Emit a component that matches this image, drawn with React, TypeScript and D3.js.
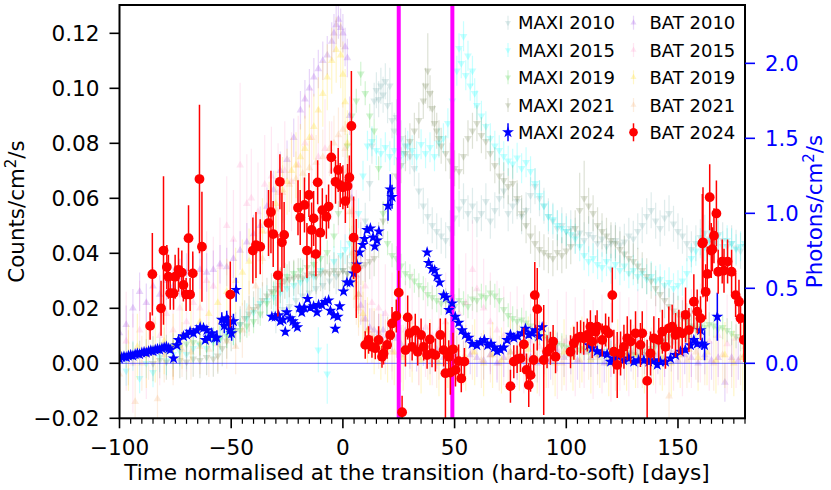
import React from "react";
import * as d3 from "d3";

// ---------- axis ticks / markers ----------
const xTicks = [-100, -50, 0, 50, 100, 150];
const yLeftTicks = [-0.02, 0, 0.02, 0.04, 0.06, 0.08, 0.1, 0.12];
const yRightTicks = [0, 0.5, 1, 1.5, 2];
const transitions = [25, 49];

// ---------- data: [day, value, err?] ----------
const maxi2010 = [
  [-30,0.32],[-27,0.36],[-24,0.38],[-21,0.42],[-18,0.45],[-15,0.47],[-12,0.5],[-9,0.52],[-6,0.55],[-3,0.58],[0,0.62],[2,0.6],[4,0.66],[6,0.7],[8,0.82],[10,0.95],[12,1.2],[13,1.45],[14,1.75],[15,1.82],[16,1.76],[17,1.85],[18,1.79],[19,1.88],[20,1.72],[21,1.85],[22,1.62],[23,1.55],[24,1.64],[26,1.5],[28,1.45],[30,1.38],[32,1.3],[34,1.15],[36,1.05],[38,0.98],[40,0.92],[42,0.88],[44,0.85],[46,0.82],[48,0.9],[50,0.97],[52,1.03],[54,1.08],[56,1.0],[58,1.05],[60,0.96],[62,1.0],[64,1.08],[66,0.95],[68,1.02],[70,1.1],[72,1.15],[74,1.0],[76,1.05],[78,1.08],[80,0.98],[82,1.02],[84,1.12],[86,1.18],[88,1.1],[90,1.05],[92,0.98],[94,0.95],[96,0.9],[98,0.92],[100,0.88],[102,0.9],[104,0.85],[106,0.87],[108,0.82],[110,0.86],[112,0.84],[114,0.8],[116,0.83],[118,0.78],[120,0.8],[122,0.82],[124,0.79],[126,0.81],[128,0.85],[130,0.83],[132,0.88],[134,0.92],[136,0.98],[138,1.02],[140,0.95],[142,0.9],[144,0.97],[146,1.0],[148,0.93],[150,0.88],[152,0.85],[154,0.8],[156,0.76],[158,0.8],[160,0.84],[162,0.87],[164,0.83],[166,0.8],[168,0.86],[170,0.82],[172,0.78],[174,0.8],[176,0.77],[178,0.75],[180,0.78],
];
const maxi2015 = [
  [-100,0.02],[-97,-0.05],[-94,0.05],[-91,-0.1],[-88,0.0],[-85,-0.06],[-82,0.04],[-79,0.02],[-76,0.06],[-73,0.08],[-70,0.06],[-67,0.1],[-64,0.12],[-61,0.1],[-58,0.14],[-55,0.16],[-52,0.2],[-49,0.22],[-46,0.26],[-43,0.3],[-40,0.34],[-37,0.4],[-34,0.42],[-31,0.44],[-28,0.47],[-25,0.5],[-22,0.52],[-19,0.54],[-16,0.56],[-13,0.58],[-11,0.09,0.15],[-10,0.62],[-7,-0.07,0.2],[-4,0.68],[-1,0.72],[1,0.76],[3,0.8],[5,0.82],[7,1.0],[9,1.25],[11,1.45],[13,1.48],[15,1.42],[17,1.4],[19,1.44],[21,1.38],[23,1.42],[25,1.36],[27,1.4],[29,1.45],[31,1.42],[33,1.38],[35,1.46],[37,1.4],[39,1.44],[41,1.38],[43,1.47],[45,1.5],[47,1.6],[49,1.75],[51,1.95],[52,2.1],[53,2.0],[54,2.18],[55,1.92],[56,2.05],[57,1.85],[58,1.95],[59,1.8],[60,1.72],[62,1.65],[64,1.58],[66,1.5],[68,1.45],[70,1.42],[72,1.38],[74,1.35],[76,1.33],[78,1.37],[80,1.3],[82,1.34],[84,1.28],[86,1.2],[88,1.12],[90,1.05],[92,0.98],[94,0.96],[96,0.92],[98,0.9],[100,0.88],[102,0.86],[104,0.83],[106,0.78],[108,0.72],[110,0.68],[112,0.7],[114,0.66],[116,0.64],[118,0.68],[120,0.63],[122,0.66],[124,0.62],[126,0.65],[128,0.6],[130,0.62],[132,0.58],[134,0.6],[136,0.56],[138,0.58],[140,0.55],[142,0.56],[144,0.52],[146,0.54],[148,0.5],[150,0.52],[152,0.55],[154,0.6],[156,0.7],[158,0.75],[160,0.8],[162,0.78],[164,0.82],[166,0.8],[168,0.85],[170,0.78],[172,0.82],[174,0.8],[176,0.76],[178,0.78],[180,0.8],
];
const maxi2019 = [
  [-100,0.03],[-97,0.05],[-94,0.06],[-91,0.07],[-88,0.08],[-85,0.1],[-82,0.09],[-79,0.11],[-76,0.12],[-73,0.11],[-70,0.13],[-67,0.14],[-64,0.13],[-61,0.15],[-58,0.16],[-55,0.17],[-52,0.18],[-49,0.2],[-46,0.22],[-43,0.25],[-40,0.28],[-37,0.33],[-34,0.4],[-31,0.47],[-28,0.55],[-25,0.58],[-22,0.6],[-19,0.62],[-16,0.64],[-13,0.66],[-10,0.7],[-7,0.74],[-4,0.85],[-2,1.0],[0,1.2],[2,1.45],[4,1.65],[6,1.75],[8,1.93],[10,1.8],[12,1.65],[14,1.55],[16,1.3],[18,1.0],[20,0.8],[22,0.72],[24,0.7],[26,0.65],[28,0.6],[30,0.58],[32,0.55],[34,0.52],[36,0.5],[38,0.46],[40,0.44],[42,0.42],[44,0.4],[46,0.42],[48,0.4],[50,0.38],[52,0.42],[54,0.4],[56,0.38],[58,0.43],[60,0.42],[62,0.45],[64,0.44],[66,0.47],[68,0.45],[70,0.42],[72,0.36],[74,0.32],[76,0.3],[78,0.28],[80,0.29],[82,0.27],[84,0.25],[86,0.22],[88,0.2],[90,0.18],[92,0.16],[94,0.14],[96,0.13],[98,0.12],[100,0.11],[102,0.1],[104,0.12],[106,0.09],[108,0.1],[110,0.08],[112,0.09],[114,0.07],[116,0.08],[118,0.06],[120,0.07],[122,0.05],[124,0.06],[126,0.05],[128,0.07],[130,0.06],[132,0.05],[134,0.08],[136,0.06],[138,0.1],[140,0.12],[142,0.14],[144,0.15],[146,0.18],[148,0.2],[150,0.18],[152,0.2],[154,0.22],[156,0.24],[158,0.23],[160,0.25],[162,0.24],[164,0.26],[166,0.25],[168,0.23],[170,0.24],[172,0.22],[174,0.2],[176,0.18],[178,0.16],[180,0.15],
];
const maxi2021 = [
  [-85,0.0],[-82,0.02],[-79,0.01],[-76,0.03],[-73,0.02],[-70,0.01],[-67,0.03],[-64,0.02],[-61,0.04],[-58,0.03],[-56,0.05],[-54,0.1],[-52,0.15],[-50,0.2],[-48,0.22],[-46,0.26],[-44,0.3],[-42,0.33],[-40,0.36],[-38,0.38],[-36,0.42],[-34,0.45],[-32,0.48],[-30,0.5],[-28,0.52],[-26,0.55],[-24,0.56],[-22,0.57],[-20,0.58],[-18,0.57],[-16,0.59],[-14,0.6],[-12,0.58],[-10,0.6],[-8,0.61],[-6,0.6],[-4,0.62],[-2,0.6],[0,0.62],[2,0.6],[4,0.63],[6,0.62],[8,0.64],[10,0.66],[12,0.68],[14,0.7],[16,0.82],[18,0.95],[20,1.05],[22,1.15],[24,1.25],[26,1.32],[28,1.4],[30,1.48],[32,1.55],[34,1.62],[36,1.75],[37,1.85],[38,1.95,0.25],[39,1.8],[40,1.7],[41,1.6],[42,1.55],[43,1.5],[44,1.45],[46,1.4],[48,1.35],[50,1.3],[52,1.28],[54,1.38],[56,1.5],[58,1.55],[60,1.6],[62,1.52],[64,1.48],[66,1.4],[68,1.32],[70,1.25],[72,1.22],[74,1.18],[76,1.2],[78,1.1],[80,1.0],[82,0.92],[84,0.85],[86,0.8],[88,0.76],[90,0.74],[92,0.72],[94,0.7],[96,0.74],[98,0.72],[100,0.75],[102,0.78],[104,0.9],[106,1.02,0.25],[108,1.1,0.25],[110,1.05],[112,1.0],[114,0.92],[116,0.88],[118,0.85],[120,0.82],[122,0.8],[124,0.76],[126,0.73],[128,0.7],[130,0.68],[132,0.65],[134,0.62],[136,0.58],[138,0.55],[140,0.5],[142,0.46],[144,0.42],[146,0.38],[148,0.35],[150,0.33],[152,0.3],[154,0.28],[156,0.25],
];
const maxi2024 = [
  [-100,0.03],[-99,0.04],[-98,0.045],[-97,0.04],[-96,0.05],[-95,0.055],[-94,0.05],[-93,0.06],[-92,0.065],[-91,0.06],[-90,0.07],[-89,0.075],[-88,0.07],[-87,0.08],[-86,0.085],[-85,0.08],[-84,0.09],[-83,0.095],[-82,0.09],[-81,0.1],[-80,0.105],[-79,0.11],[-78,0.1],[-77.3,0.09],[-75.8,0.033],
  [-74.3,0.12],[-73.6,0.155],[-71.4,0.18],[-69.9,0.19],[-68.4,0.21],[-66.9,0.2],[-65.4,0.22],[-63.9,0.24],[-62.4,0.235],[-60.9,0.22],[-61.6,0.155],[-60.2,0.17],[-58.7,0.2],[-57.2,0.17],[-56.4,0.17,0.05],
  [-54.2,0.29,0.05],[-53.1,0.25,0.05],[-52,0.3,0.05],[-51.3,0.27,0.05],[-50.5,0.22,0.05],[-49.8,0.2,0.05],[-49,0.28,0.05],[-47.8,0.49,0.08],
  [-31.8,0.31],[-30.3,0.31],[-28.8,0.32],[-28,0.28],[-26.8,0.29],[-25.8,0.21],[-25.1,0.34],[-23.6,0.3],[-22.4,0.28],[-21.4,0.26],[-20.4,0.24],
  [-19.4,0.37],[-18.4,0.34],[-17.3,0.37],[-15.8,0.43],[-14.6,0.37],[-13.1,0.38],[-11.6,0.34],[-10.9,0.39],[-9.4,0.39],[-7.9,0.41],[-6.4,0.42],[-5.6,0.35],[-4.1,0.32],[-3.4,0.23],[-2.3,0.31],[-1.4,0.38],[0.3,0.48],[1.8,0.54],[3.3,0.54],[4.8,0.6],[6.3,0.66],[7.5,0.74],[8.9,0.79],[9.7,0.83],[10.8,0.89],[12.3,0.9],[13.5,0.84],[14.3,0.78],[15.3,0.82],[16.1,0.88],
  [20.2,1.05,0.1],[21.2,1.16,0.1],[22,1.11,0.08],
  [37.7,0.74],[38.4,0.67],[39.9,0.63],[41.1,0.62],[42.1,0.58],[43.3,0.54],[45.1,0.455],[46.3,0.44],[47.5,0.355],[48.9,0.4],[50.3,0.31],[51.8,0.27],[53.3,0.22],[54.8,0.19],[56.3,0.17],[57.8,0.13],[60,0.12],[61.5,0.14],[63.3,0.155],[64.8,0.12],[66.3,0.13],[67.8,0.105],[69,0.08],[70.5,0.09],[72,0.105],[73.5,0.155],[75,0.19],[76.5,0.17],[78.3,0.18],[80.2,0.2],[81.7,0.23],[83.2,0.19],[84.7,0.2],[86.2,0.22],[87.7,0.18],[89.2,0.24],
  [110.1,0.12],[111.6,0.1],[113.8,0.08],[116,0.067],[118.3,0.06],[119.8,0.01],[121.3,0.033],[123.5,0.045],[125.7,0.02],[128,0.033],[130.2,0.01],[132.4,0.02],[134.7,0.02],[136.9,0.01],[139.2,0.02],[140.7,-0.01],[142.1,0.01],[144.4,0.01],[146.6,0.033],[148.9,0.055],[151.1,0.078],[153.3,0.09],[155.6,0.12],[157.1,0.155],[158.6,0.13],[160.1,0.22,0.05],[160.8,0.13,0.04],[161.9,0.12,0.1],[167.6,0.31,0.16],
];
const bat2010 = [
  [-100,0.011],[-97,0.014],[-94,0.02],[-91,0.026],[-88,0.022],[-85,0.028],[-82,0.025],[-79,0.03],[-76,0.028],[-73,0.031],[-70,0.033],[-67,0.032],[-64,0.034],[-61,0.033],[-58,0.034],[-55,0.036],[-52,0.035],[-49,0.038],[-46,0.041],[-43,0.044],[-40,0.047],[-37,0.05],[-34,0.057],[-31,0.063],[-28,0.07],[-25,0.074],[-22,0.082],[-19,0.092],[-17,0.096],[-15,0.1],[-13,0.104],[-11,0.107],[-9,0.11],[-7,0.112],[-5,0.117],[-4,0.12],[-3,0.123],[-2,0.125],[-1,0.122],[0,0.12],[1,0.115],[2,0.111],[3,0.09],[4,0.06],[5,0.045],[6,0.032],[7,0.025],[8,0.021],[10,0.016],[12,0.013],[14,0.012],[16,0.011],[18,0.012],[20,0.01],[22,0.011],[24,0.009],[26,0.007],[28,0.006],
  [30,0.005],[33,0.004],[36,0.006],[39,0.003],[42,0.005],[45,0.002],[48,0.004],[51,0.003],[54,0.001],[57,0.003],[60,0.002],[63,0.001],[66,0.003],[69,0.0],[72,0.002],[75,0.004],[78,0.001],[81,0.003],[84,0.002],[87,0.0],[90,0.003],[93,0.001],[96,0.004],[99,0.002],[102,0.003],[105,0.001],[108,0.004],[111,0.002],[114,0.003],[117,0.0],[120,0.002],[123,0.003],[126,0.001],[129,0.004],[132,0.002],[135,0.003],[138,0.001],[141,0.003],[144,0.002],[147,0.004],[150,0.001],[153,0.003],[156,0.002],[159,0.0],[162,0.003],[165,0.001],[168,0.002],[171,-0.007],[174,0.002],[177,0.001],[180,0.003],
];
const bat2015 = [
  [-100,0.002],[-97,0.008],[-94,0.0],[-91,0.012],[-88,0.005],[-85,0.015],[-82,0.01],[-79,0.018],[-76,0.012],[-73,0.02],[-70,0.015],[-67,0.022],[-64,0.02],[-61,0.03],[-58,0.028],[-55,0.035],[-52,0.05],[-49,0.045],[-46,0.072,0.03],[-43,0.058],[-41,0.06],[-38,0.055],[-35,0.065],[-32,0.068],[-29,0.062],[-26,0.07],[-23,0.066],[-20,0.072],[-17,0.08],[-14,0.082],[-11,0.075],[-8,0.078],[-5,0.07],[-2,0.065],[1,0.06],[4,0.055],[6,0.045],[8,0.035],[10,0.028],[13,0.022],[16,0.02],[19,0.018],[22,0.015],[25,0.016],[28,0.012],[31,0.015],[34,0.01],[37,0.013],[40,0.01],[43,0.012],[46,0.015],[49,0.012],[52,0.018],[55,0.022],[58,0.034],[60,0.027],[63,0.02],[66,0.015],[69,0.012],[72,0.01],[75,0.008],[78,0.01],[81,0.007],[84,0.008],[88,0.006],[92,0.009],[96,0.005],[100,0.008],[104,0.006],[108,0.009],[112,0.005],[116,0.007],[120,0.004],[124,0.008],[128,0.006],[132,0.009],[136,0.005],[140,0.007],[144,0.01],[148,0.008],[152,0.006],[156,0.009],[160,0.011],[164,0.008],[168,0.01],[172,0.007],[176,0.009],[180,0.006],
];
const bat2019 = [
  [-100,0.004],[-96,0.002],[-92,0.006],[-88,0.003],[-84,0.005],[-80,0.008],[-76,0.006],[-72,0.01],[-68,0.012],[-64,0.015],[-60,0.018],[-56,0.022],[-52,0.026],[-48,0.03],[-45,0.033],[-42,0.037],[-39,0.042],[-36,0.048],[-33,0.054],[-30,0.058],[-27,0.063],[-25,0.066],[-23,0.07],[-21,0.072],[-19,0.075],[-17,0.078],[-15,0.082],[-13,0.086],[-11,0.092],[-9,0.098],[-7,0.104],[-5,0.11],[-3,0.114],[-1,0.112],[0,0.105],[1,0.095],[2,0.08],[3,0.06],[4,0.045],[5,0.035],[7,0.025],[9,0.018],[11,0.012],[14,0.008],[17,0.006],[20,0.005],[23,0.004],[27,0.002],[31,0.005],[35,0.001],[39,0.004],[43,0.0],[47,0.003],[51,0.005],[55,0.002],[59,0.004],[63,0.0],[67,0.003],[71,0.001],[75,0.004],[79,0.002],[83,0.005],[87,0.001],[91,0.003],[95,0.0],[99,0.004],[103,0.002],[107,0.005],[111,0.001],[115,0.003],[119,0.0],[123,0.004],[127,0.002],[131,0.003],[135,0.001],[139,0.004],[143,0.002],[147,0.0],[151,0.003],[155,0.005],[159,0.002],[163,0.004],[167,0.001],[171,0.003],[175,0.0],[179,0.002],
];
const bat2021 = [
  [-100,-0.004],[-96,0.002],[-93,-0.014,0.015],[-90,0.0],[-87,0.004],[-83,-0.013,0.015],[-80,0.003],[-76,0.002],[-72,0.005],[-68,0.004],[-64,0.006],[-60,0.005],[-56,0.007],[-52,0.008],[-48,0.006],[-45,0.012],[-42,0.02],[-39,0.028],[-36,0.038],[-33,0.048],[-30,0.056],[-27,0.062],[-24,0.065],[-21,0.067],[-18,0.069],[-15,0.071],[-12,0.073],[-9,0.075],[-6,0.078],[-4,0.08],[-2,0.083],[0,0.085],[1,0.078],[2,0.07],[3,0.055],[4,0.04],[5,0.03],[6,0.024],[7,0.02],[9,0.016],[11,0.012],[13,0.01],[16,0.008],[19,0.006],[22,0.004],[26,0.003],[30,0.005],[34,0.002],[38,0.004],[42,0.001],[46,0.003],[50,0.005],[54,0.002],[58,0.004],[62,0.001],[66,0.003],[70,0.0],[74,0.002],[78,0.004],[82,0.001],[86,0.003],[90,0.005],[94,0.002],[98,0.0],[102,0.003],[106,0.001],[110,0.004],[114,0.002],[118,0.003],[122,0.0],[126,0.002],[130,0.004],[134,0.001],[138,0.003],[142,0.002],[146,-0.012,0.012],[150,0.003],[154,0.001],[158,0.004],[162,0.002],[166,0.0],[170,0.003],[174,0.001],[178,0.002],
];
const bat2024 = [
  [-86.3,0.0136,0.005],[-85.3,0.0324,0.015],[-81.4,0.02,0.01],[-80.3,0.041,0.027],
  [-78.8,0.035,0.008],[-78.1,0.0315,0.008],[-77.3,0.0255,0.006],[-75.8,0.0255,0.006],[-75.1,0.0315,0.008],[-73.6,0.034,0.008],[-72.1,0.033,0.008],[-71.4,0.0285,0.006],[-70.2,0.025,0.006],[-68.4,0.025,0.006],[-67.2,0.0327,0.008],[-69.1,0.0455,0.012],[-63.1,0.0424,0.02],[-64.2,0.067,0.027],
  [-50.4,0.025,0.012],
  [-40.3,0.041,0.012],[-38.9,0.043,0.012],[-37,0.0424,0.01],
  [-33.3,0.051,0.012],[-32.2,0.055,0.015],[-31.2,0.047,0.012],
  [-29.1,0.032,0.015],[-28.2,0.066,0.01],[-27.3,0.044,0.018],[-26.3,0.0467,0.012],
  [-20.1,0.0566,0.01],[-19.1,0.053,0.01],[-17.2,0.0576,0.01],[-16.1,0.041,0.01],[-15.2,0.0612,0.008],[-14,0.0485,0.01],[-13.1,0.0527,0.01],[-12.1,0.0397,0.008],[-11.3,0.0658,0.008],[-10.1,0.0475,0.008],[-9.2,0.0557,0.008],[-7.4,0.0533,0.008],[-6.4,0.057,0.008],[-5.2,0.0749,0.006],[-3.3,0.066,0.008],[-2.1,0.0703,0.008],[-1.2,0.0648,0.008],[0,0.064,0.008],[1.1,0.059,0.008],[2.1,0.0645,0.008],[2.9,0.0676,0.008],[3.8,0.0863,0.02],[4.8,0.0457,0.015],[6,0.0345,0.018],
  [10,0.0067,0.005],[11.5,0.0085,0.005],[13,0.006,0.004],[14.5,0.0055,0.004],[16,0.0085,0.005],[17.5,0.0024,0.004],[18.2,0.0036,0.004],[19.8,0.0067,0.005],[21.2,0.0103,0.005],[22,0.0145,0.006],[23.9,0.0172,0.006],[25,0.0257,0.008],[26.5,-0.0178,0.006],[28,0.0048,0.006],[29,0.0167,0.008],[29.9,0.011,0.006],[31,0.006,0.005],[32.4,0.012,0.006],[33.5,0.0042,0.005],[35,0.0103,0.006],[36.2,0.006,0.005],[37.7,0.003,0.005],[38.9,0.0087,0.006],[39.9,0.0036,0.005],[41.4,0.003,0.006],[43.6,0.0103,0.006],[45.1,0.0048,0.006],[45.9,-0.0036,0.02],[47.4,0.0024,0.006],[48.1,-0.0034,0.008],[49.3,0.0051,0.006],[50.4,-0.0024,0.006],[51.8,0.0008,0.006],[53,-0.0055,0.005],[54.4,0.0006,0.005],
  [75,-0.0083,0.006],[76.5,0.0006,0.006],[78,0.0015,0.005],[79.5,0.0018,0.005],[81,0.0069,0.006],[82.2,-0.0024,0.006],[83.2,-0.0079,0.008],[84,-0.0043,0.006],[85.4,0.0012,0.006],[85.9,0.0248,0.012],[87,0.0197,0.015],[89.9,0.0012,0.02],[91.4,0.0042,0.006],[92.9,0.0055,0.006],[94.1,0.0079,0.006],[95.2,0.0024,0.006],
  [101.9,0.0042,0.006],[103.4,0.0073,0.006],[104.9,0.0091,0.006],[106.4,0.0097,0.006],[107.8,0.0091,0.006],[109.4,0.0103,0.006],[110.8,0.0133,0.006],[111.6,0.0079,0.006],[113.1,0.0115,0.006],[113.8,0.0133,0.006],[116.1,0.0085,0.006],[117.6,0.0121,0.006],[119,0.0109,0.006],[120.6,0.0248,0.01],[121.3,0.0042,0.008],[122.8,-0.0006,0.012],[124.3,0.0036,0.008],[125.8,0.006,0.008],[127.3,0.0091,0.008],[128.8,0.0079,0.008],[131,0.0109,0.008],[133.2,0.0067,0.008],[134,0.0109,0.008],[136.2,-0.0064,0.015],[137.7,0.0036,0.008],[139.2,0.0091,0.008],[141.4,0.0085,0.008],[143,0.0115,0.008],[144.4,0.006,0.008],[145.9,0.0127,0.008],[147.4,0.0133,0.008],[148.9,0.0103,0.008],[150.4,0.0115,0.008],[151.9,0.0109,0.008],[153.4,0.0176,0.01],[154.9,0.0121,0.008],[157.1,0.0224,0.01],[158.6,0.0188,0.008],[160.1,0.0164,0.008],
  [160.9,0.0436,0.018],[161.2,0.044,0.02],[162.4,0.026,0.01],[163.1,0.0325,0.01],[164.2,0.0604,0.012],[164.9,0.041,0.01],[165.4,0.0415,0.008],[166.1,0.0464,0.01],[167.2,0.0545,0.012],[168,0.0333,0.008],[169.8,0.037,0.008],[170.6,0.0337,0.008],[172.2,0.037,0.008],[174,0.0333,0.008],[175.8,0.0248,0.008],[177.3,0.0224,0.008],[178,0.0164,0.008],[179.5,0.0085,0.008],
];

const legendNames = ["MAXI 2010","MAXI 2015","MAXI 2019","MAXI 2021","MAXI 2024","BAT 2010","BAT 2015","BAT 2019","BAT 2021","BAT 2024"];

type Series = { name: string; data: number[][]; color: string; alpha: number; kind: "down" | "up" | "star" | "circle"; axis: "L" | "R"; err: number };

const series: Series[] = [
  { name: "MAXI 2010", data: maxi2010, color: "#5f9ea0", alpha: 0.2, kind: "down", axis: "R", err: 0.12 },
  { name: "MAXI 2015", data: maxi2015, color: "#00ffff", alpha: 0.22, kind: "down", axis: "R", err: 0.1 },
  { name: "MAXI 2019", data: maxi2019, color: "#32cd32", alpha: 0.22, kind: "down", axis: "R", err: 0.08 },
  { name: "MAXI 2021", data: maxi2021, color: "#556b2f", alpha: 0.2, kind: "down", axis: "R", err: 0.12 },
  { name: "MAXI 2024", data: maxi2024, color: "#0000ff", alpha: 1, kind: "star", axis: "R", err: 0.02 },
  { name: "BAT 2010", data: bat2010, color: "#8a2be2", alpha: 0.2, kind: "up", axis: "L", err: 0.007 },
  { name: "BAT 2015", data: bat2015, color: "#ff69b4", alpha: 0.16, kind: "up", axis: "L", err: 0.018 },
  { name: "BAT 2019", data: bat2019, color: "#ffd700", alpha: 0.22, kind: "up", axis: "L", err: 0.012 },
  { name: "BAT 2021", data: bat2021, color: "#f4a460", alpha: 0.2, kind: "up", axis: "L", err: 0.01 },
  { name: "BAT 2024", data: bat2024, color: "#ff0000", alpha: 1, kind: "circle", axis: "L", err: 0.008 },
];

const FONT = "DejaVu Sans, Verdana, sans-serif";
const PL = 119.5, PR = 745, PT = 5, PB = 418.3;

const triPath = d3.symbol().type(d3.symbolTriangle).size(26)() as string;
const triSmall = d3.symbol().type(d3.symbolTriangle).size(16)() as string;
const starPath = d3.symbol().type(d3.symbolStar).size(44)() as string;

function Marker({ kind, x, y, color, alpha, small }: { kind: string; x: number; y: number; color: string; alpha: number; small?: boolean }) {
  if (kind === "circle") return <circle cx={x} cy={y} r={small ? 4.3 : 4.9} fill={color} fillOpacity={alpha} />;
  if (kind === "star") return <path d={starPath} transform={`translate(${x},${y})`} fill={color} fillOpacity={alpha} />;
  const rot = kind === "down" ? " rotate(180)" : "";
  return <path d={small ? triSmall : triPath} transform={`translate(${x},${y})${rot}`} fill={color} fillOpacity={alpha} />;
}

export default function App() {
  const x = d3.scaleLinear().domain([-100, 180]).range([PL, PR]);
  const yL = d3.scaleLinear().domain([-0.02, 0.1303]).range([PB, PT]);
  const yR = d3.scaleLinear().domain([-0.3667, 2.389]).range([PB, PT]);
  const fmtL = d3.format(".2f");
  const fmtR = d3.format(".1f");
  const fmtX = d3.format("d");
  const minor = d3.range(-100, 181, 5).filter((v) => v % 50 !== 0);

  const drawSeries = (s: Series) => {
    const y = s.axis === "L" ? yL : yR;
    const main = s.alpha === 1;
    return (
      <g key={s.name}>
        {s.data.map((p, i) => {
          const e = p[2] !== undefined ? p[2] : s.err;
          return (
            <line key={"e" + i} x1={x(p[0])} x2={x(p[0])} y1={y(p[1] - e)} y2={y(p[1] + e)}
              stroke={s.color} strokeOpacity={s.alpha} strokeWidth={main ? 1.5 : 1.2} />
          );
        })}
        {s.data.map((p, i) => (
          <Marker key={"m" + i} kind={s.kind} x={x(p[0])} y={y(p[1])} color={s.color} alpha={s.alpha} />
        ))}
      </g>
    );
  };

  const faint = series.filter((s) => s.alpha < 1);
  const maxi24 = series.find((s) => s.name === "MAXI 2024")!;
  const bat24 = series.find((s) => s.name === "BAT 2024")!;

  const legendRows = [22.7, 50, 77.3, 105, 132.3];
  const legendCols = [{ mx: 508, tx: 518 }, { mx: 633.5, tx: 649.5 }];

  return (
    <svg width={831} height={490} style={{ position: "absolute", left: 0, top: 0, background: "#fff" }} fontFamily={FONT}>
      <defs>
        <clipPath id="plot">
          <rect x={PL} y={PT} width={PR - PL} height={PB - PT} />
        </clipPath>
      </defs>
      <rect x={0} y={0} width={831} height={490} fill="#fff" />
      <g clipPath="url(#plot)">
        {faint.map(drawSeries)}
        <line x1={PL} x2={PR} y1={yL(0)} y2={yL(0)} stroke="#0000ff" strokeOpacity={0.6} strokeWidth={1} />
        {transitions.map((t) => (
          <line key={t} x1={x(t)} x2={x(t)} y1={PT} y2={PB} stroke="#ff00ff" strokeWidth={4} />
        ))}
        {drawSeries(maxi24)}
        {drawSeries(bat24)}
      </g>

      {/* frame */}
      <rect x={PL} y={PT} width={PR - PL} height={PB - PT} fill="none" stroke="#000" strokeWidth={2} />

      {/* bottom axis */}
      {xTicks.map((t) => (
        <g key={"x" + t}>
          <line x1={x(t)} x2={x(t)} y1={PB} y2={PB + 10} stroke="#000" strokeWidth={1.6} />
          <text x={x(t)} y={455} fontSize={21.6} textAnchor="middle">{fmtX(t)}</text>
        </g>
      ))}
      {minor.map((t) => (
        <line key={"mx" + t} x1={x(t)} x2={x(t)} y1={PB} y2={PB + 5.5} stroke="#000" strokeWidth={1.2} />
      ))}
      <text x={417} y={480} fontSize={21.6} textAnchor="middle">Time normalised at the transition (hard-to-soft) [days]</text>

      {/* left axis */}
      {yLeftTicks.map((t) => (
        <g key={"yl" + t}>
          <line x1={PL - 10} x2={PL} y1={yL(t)} y2={yL(t)} stroke="#000" strokeWidth={1.6} />
          <text x={99.5} y={yL(t) + 7.8} fontSize={21.6} textAnchor="end">{fmtL(t)}</text>
        </g>
      ))}
      <text transform={`translate(23.5,211.5) rotate(-90)`} fontSize={21.4} textAnchor="middle">
        Counts/cm<tspan fontSize={15} dy={-8}>2</tspan><tspan dy={8}>/s</tspan>
      </text>

      {/* right axis */}
      {yRightTicks.map((t) => (
        <g key={"yr" + t}>
          <line x1={PR} x2={PR + 10} y1={yR(t)} y2={yR(t)} stroke="#0000ff" strokeWidth={1.6} />
          <text x={765} y={yR(t) + 7.8} fontSize={21.2} fill="#0000ff">{fmtR(t)}</text>
        </g>
      ))}
      <text transform={`translate(821.5,211.5) rotate(-90)`} fontSize={21.4} textAnchor="middle" fill="#0000ff">
        Photons/cm<tspan fontSize={15} dy={-8}>2</tspan><tspan dy={8}>/s</tspan>
      </text>

      {/* legend */}
      {legendNames.map((n, i) => {
        const s = series.find((q) => q.name === n)!;
        const col = legendCols[Math.floor(i / 5)];
        const cy = legendRows[i % 5];
        const main = s.alpha === 1;
        return (
          <g key={"lg" + n}>
            <line x1={col.mx} x2={col.mx} y1={cy - (main ? 9 : 7)} y2={cy + (main ? 9 : 7)} stroke={s.color} strokeOpacity={s.alpha} strokeWidth={main ? 1.5 : 1.2} />
            <Marker kind={s.kind} x={col.mx} y={cy} color={s.color} alpha={s.alpha} small />
            <text x={col.tx} y={cy + 6.6} fontSize={18}>{n}</text>
          </g>
        );
      })}
    </svg>
  );
}
